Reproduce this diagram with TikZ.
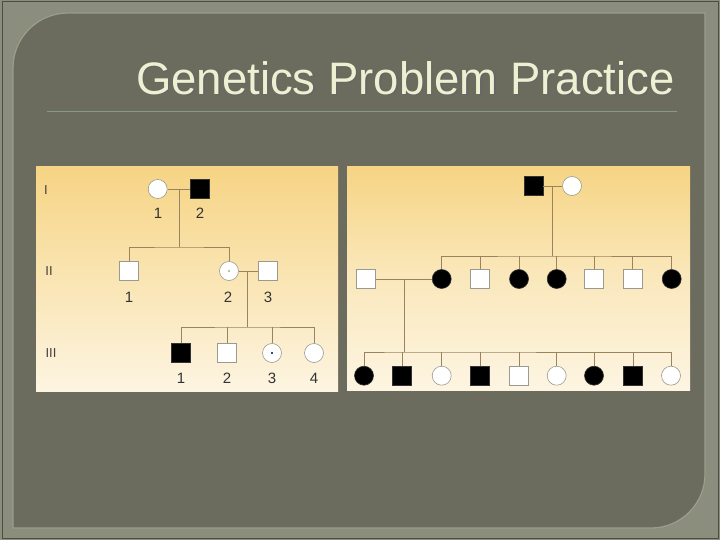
\documentclass[tikz,border=0pt]{standalone}
\usepackage{fontspec}
\setmainfont{Liberation Sans}
\begin{document}
\begin{tikzpicture}[x=1pt,y=-1pt,
  ln/.style={draw=lnc, line width=0.9pt},
  sq/.style={draw=sqb, fill=white, line width=0.6pt, minimum size=18.5pt, inner sep=0pt, rectangle},
  sqf/.style={sq, fill=black, draw=black!80},
  ci/.style={draw=sqb, fill=white, line width=0.6pt, minimum size=19pt, inner sep=0pt, circle},
  cif/.style={ci, fill=black, draw=black!80},
  num/.style={font=\fontsize{15}{15}\selectfont, text=black!80, inner sep=0pt},
  gen/.style={font=\fontsize{13}{13}\selectfont, text=black!75, inner sep=0pt},
  cdot/.style={circle, fill=#1, minimum size=2.2pt, inner sep=0pt}
]
\definecolor{outer}{HTML}{8B8E7D}
\definecolor{panel}{HTML}{6B6B5E}
\definecolor{edge}{HTML}{9A9E8A}
\definecolor{lnc}{HTML}{9A8460}
\definecolor{sqb}{HTML}{9A9A90}
\definecolor{titlec}{HTML}{EEF0D2}
\definecolor{rule}{HTML}{889A80}
\definecolor{topc}{HTML}{F6D484}
\definecolor{botc}{HTML}{FDF5E2}
\useasboundingbox (0,0) rectangle (720,540);
% frame
\fill[outer] (0,0) rectangle (720,540);
\draw[black!45!outer, line width=1pt] (2,2) rectangle (718,538);
\fill[panel, draw=edge, line width=1.2pt] (13,528) -- (13,68) arc[start angle=180,end angle=90,radius=55pt] -- (705,13) -- (705,474) arc[start angle=0,end angle=-90,radius=54pt] -- cycle;
% title
\node[anchor=base east, inner sep=0pt, text=black!60, font=\fontsize{45.5}{45.5}\selectfont] at (676.5,96) {Genetics Problem Practice};
\node[anchor=base east, inner sep=0pt, text=titlec, font=\fontsize{45.5}{45.5}\selectfont] (title) at (675,94.5) {Genetics Problem Practice};
\draw[rule, line width=1pt] (47,112) -- (677,112);
% boxes
\shade[top color=topc, bottom color=botc] (36,167) rectangle (338,391);
\shade[top color=topc, bottom color=botc, middle color=botc!60!topc] (347,167) rectangle (690,390);
% ---------- left pedigree ----------
\node[gen] (g1) at (46,190) {I};
\node[gen] (g2) at (49,271) {II};
\node[gen] (g3) at (51,353) {III};
\node[ci] (a1) at (157.7,189) {};
\node[sqf] (a2) at (200,189) {};
\node[num] at (158,213) {1};
\node[num] at (200,213) {2};
\draw[ln] (a1) -- (a2);
\coordinate (a12) at (179,189);
\coordinate (s1) at (179,247);
\draw[ln] (a12) -- (s1);
\node[sq] (b1) at (129,271) {};
\node[ci] (b2) at (229,271) {};
\node[cdot=black!35] at (b2) {};
\node[sq] (b3) at (268,271) {};
\node[num] at (129,297) {1};
\node[num] at (228,297) {2};
\node[num] at (268,297) {3};
\draw[ln] (b1.north) |- (s1) -| (b2.north);
\draw[ln] (b2) -- (b3);
\coordinate (b23) at (247,271);
\coordinate (s2) at (247,327);
\draw[ln] (b23) -- (s2);
\node[sqf] (c1) at (181,353) {};
\node[sq] (c2) at (227,353) {};
\node[ci] (c3) at (272,353) {};
\node[cdot=blue!30!black] at (c3) {};
\node[ci] (c4) at (314,353) {};
\node[num] at (181,378) {1};
\node[num] at (227,378) {2};
\node[num] at (272,378) {3};
\node[num] at (314,378) {4};
\draw[ln] (c1.north) |- (s2) -| (c4.north);
\draw[ln] (c2.north) -- (c2.north |- s2);
\draw[ln] (c3.north) -- (c3.north |- s2);
% ---------- right pedigree ----------
\node[sqf] (p) at (533.7,186) {};
\node[ci] (m) at (572,186) {};
\draw[ln] (p) -- (m);
\coordinate (pm) at (552.7,186);
\coordinate (t) at (552.7,256);
\draw[ln] (pm) -- (t);
\node[sq] (r0) at (366,279) {};
\node[cif] (r1) at (441.7,279) {};
\node[sq] (r2) at (480,279) {};
\node[cif] (r3) at (519,279) {};
\node[cif] (r4) at (556.7,279) {};
\node[sq] (r5) at (594,279) {};
\node[sq] (r6) at (632.7,279) {};
\node[cif] (r7) at (671.7,279) {};
\draw[ln] (r1.north) |- (t) -| (r7.north);
\foreach \n in {r2,r3,r4,r5,r6} \draw[ln] (\n.north) -- (\n.north |- t);
\draw[ln] (r0) -- (r1);
\coordinate (r01) at (404,279);
\coordinate (u) at (404,352);
\draw[ln] (r01) -- (u);
\node[cif] (q1) at (364,375.7) {};
\node[sqf] (q2) at (402,375.7) {};
\node[ci] (q3) at (441.7,375.7) {};
\node[sqf] (q4) at (480,375.7) {};
\node[sq] (q5) at (519,375.7) {};
\node[ci] (q6) at (556.7,375.7) {};
\node[cif] (q7) at (594,375.7) {};
\node[sqf] (q8) at (633,375.7) {};
\node[ci] (q9) at (671,375.7) {};
\draw[ln] (q1.north) |- (u) -| (q9.north);
\foreach \n in {q2,q3,q4,q5,q6,q7,q8} \draw[ln] (\n.north) -- (\n.north |- u);
\end{tikzpicture}
\end{document}
